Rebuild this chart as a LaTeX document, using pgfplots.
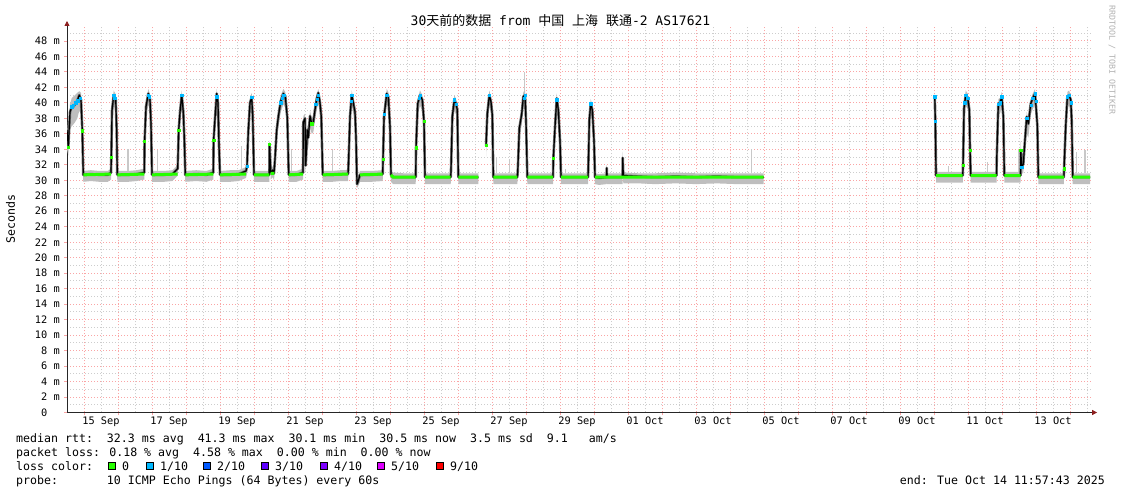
\documentclass[border=0pt]{standalone}
\usepackage{fontspec}
\setmainfont{DejaVu Sans Mono}
\newfontfamily\cjk{Noto Sans CJK SC}
\usepackage{pgfplots}
\usepackage{pgfplotstable}
\pgfplotsset{compat=1.18}
\usepgfplotslibrary{fillbetween}
\usetikzlibrary{arrows.meta}

\definecolor{gridred}{RGB}{250,165,165}
\definecolor{gridgray}{RGB}{205,205,205}
\definecolor{smoke}{RGB}{190,190,190}
\definecolor{smokedark}{RGB}{110,110,110}
\definecolor{spike}{RGB}{200,200,200}
\definecolor{loss0}{HTML}{26FF00}
\definecolor{loss1}{HTML}{00B8FF}
\definecolor{loss2}{HTML}{0059FF}
\definecolor{loss3}{HTML}{5E00FF}
\definecolor{loss4}{HTML}{7E00FF}
\definecolor{loss5}{HTML}{DD00FF}
\definecolor{loss9}{HTML}{FF0000}
\definecolor{arrowred}{RGB}{140,30,30}

% x = days after 15 Sep 00:00, med = median rtt (ms), lo/hi = smoke range
\pgfplotstableread{
x med lo hi
-0.500 36.5 34.0 37.5
-0.462 34.3 33.2 35.5
-0.412 38.8 36.5 39.8
-0.362 39.5 37.0 40.6
-0.315 39.5 37.2 40.8
-0.265 39.8 37.5 41.0
-0.197 40.3 38.0 41.3
-0.138 41.0 39.0 41.5
-0.088 40.4 38.5 41.3
-0.050 36.4 34.5 38.0
-0.021 30.7 29.8 31.2
0.20 30.8 29.9 31.3
0.45 30.7 29.8 31.2
0.70 30.7 29.8 31.2
0.794 31.0 30.1 31.5
0.803 33.0 31.8 33.6
0.824 39.0 37.6 39.6
0.874 41.0 39.6 41.6
0.932 40.5 39.1 41.1
0.962 36.3 34.9 36.9
0.979 30.7 29.8 31.2
1.30 30.7 29.8 31.2
1.55 30.8 29.9 31.3
1.774 31.0 30.1 31.5
1.782 35.0 33.6 35.6
1.824 39.5 38.1 40.1
1.891 41.2 39.8 41.8
1.941 40.5 39.1 41.1
1.971 37.2 35.8 37.8
2.000 30.7 29.8 31.2
2.35 30.7 29.8 31.2
2.60 30.8 29.9 31.3
2.756 31.5 30.6 32.0
2.785 36.5 35.1 37.1
2.824 38.8 37.4 39.4
2.874 41.0 39.6 41.6
2.921 38.8 37.4 39.4
2.950 35.5 34.1 36.1
2.979 30.7 29.8 31.2
3.30 30.8 29.9 31.3
3.60 30.7 29.8 31.2
3.803 31.0 30.1 31.5
3.812 35.2 33.8 35.8
3.853 38.0 36.6 38.6
3.903 41.2 39.8 41.8
3.941 40.0 38.6 40.6
3.971 34.4 33.0 35.0
4.000 30.7 29.8 31.2
4.30 30.7 29.8 31.3
4.55 30.8 29.9 31.3
4.765 31.2 30.3 31.7
4.794 31.8 30.9 32.3
4.832 36.3 34.9 36.9
4.882 40.0 38.6 40.6
4.932 40.7 39.3 41.3
4.962 38.3 36.9 38.9
5.000 30.7 29.8 31.2
5.25 30.7 29.8 31.2
5.450 30.7 29.8 31.2
5.456 34.7 33.5 35.2
5.491 31.0 30.1 31.5
5.550 31.3 30.4 31.8
5.588 30.9 30.0 31.4
5.618 32.8 31.6 33.4
5.668 36.5 35.1 37.3
5.715 38.2 36.8 38.9
5.785 40.2 38.8 40.9
5.862 41.2 39.8 41.8
5.921 40.8 39.4 41.4
5.979 38.1 36.7 38.7
6.021 30.7 29.8 31.2
6.25 30.7 29.8 31.2
6.441 31.0 30.1 31.5
6.450 37.5 35.5 38.3
6.500 38.0 36.4 38.6
6.521 31.9 31.0 32.5
6.568 36.5 35.0 37.2
6.597 35.5 34.2 36.3
6.647 38.3 36.9 39.0
6.697 37.3 36.0 38.0
6.744 37.5 36.2 38.3
6.794 39.1 37.7 39.8
6.844 40.5 39.1 41.1
6.891 41.3 39.9 41.8
6.941 40.0 38.6 40.6
6.979 38.2 36.8 38.8
7.021 30.7 29.8 31.2
7.30 30.7 29.8 31.2
7.55 30.8 29.9 31.3
7.765 30.8 29.9 31.3
7.774 31.5 30.6 32.0
7.824 38.3 36.9 38.9
7.874 41.0 39.6 41.6
7.921 40.0 38.6 40.6
7.971 38.8 37.4 39.4
8.000 35.5 34.1 36.1
8.029 29.5 29.0 30.2
8.059 29.8 29.2 30.5
8.118 30.7 29.8 31.2
8.45 30.7 29.8 31.2
8.785 30.8 29.9 31.3
8.794 32.7 31.5 33.3
8.824 38.2 36.8 38.8
8.903 41.2 39.8 41.8
8.950 40.8 39.4 41.4
9.000 36.9 35.5 37.5
9.029 30.7 29.8 31.2
9.09 30.4 29.5 31.0
9.40 30.4 29.5 30.9
9.756 30.4 29.5 30.9
9.765 34.2 32.8 34.8
9.815 39.9 38.5 40.5
9.882 41.0 39.6 41.6
9.950 40.4 39.0 41.0
10.000 37.6 36.2 38.2
10.029 30.4 29.5 30.9
10.40 30.4 29.5 30.9
10.785 30.4 29.5 30.9
10.794 31.3 30.4 31.9
10.832 38.2 36.8 38.8
10.891 40.4 39.0 41.0
10.941 39.9 38.5 40.5
10.979 39.1 37.7 39.7
11.009 30.4 29.5 30.9
11.30 30.4 29.5 30.9
11.597 30.4 29.5 30.9
}\segA

\pgfplotstableread{
x med lo hi
11.824 34.5 33.1 35.1
11.862 38.6 37.2 39.2
11.921 41.0 39.6 41.6
11.971 40.1 38.7 40.7
12.009 38.4 37.0 39.0
12.038 30.4 29.5 30.9
12.40 30.4 29.5 30.9
12.744 30.4 29.5 30.9
12.756 31.1 30.2 31.7
12.803 36.7 35.3 37.3
12.874 38.6 37.2 39.2
12.921 40.8 39.4 41.4
12.971 41.0 39.6 41.6
13.000 37.6 36.2 38.2
13.038 30.4 29.5 30.9
13.40 30.4 29.5 30.9
13.794 30.4 29.5 30.9
13.803 32.8 31.4 33.4
13.853 36.9 35.5 37.5
13.903 40.6 39.2 41.2
13.950 39.1 37.7 39.7
14.000 35.1 33.7 35.7
14.029 30.4 29.5 30.9
14.40 30.4 29.5 30.9
14.824 30.4 29.5 30.9
14.832 31.7 30.8 32.3
14.862 37.8 36.4 38.4
14.903 39.9 38.5 40.5
14.950 39.1 37.7 39.7
15.000 35.1 33.7 35.7
15.029 30.4 29.5 30.9
15.150 30.3 29.4 30.8
15.368 30.4 29.5 30.9
15.374 31.6 30.6 32.0
15.382 30.4 29.5 30.9
15.838 30.4 29.5 30.9
15.844 32.9 30.8 33.7
15.862 30.6 29.6 31.0
16.30 30.5 29.6 30.9
16.80 30.4 29.5 30.9
17.40 30.5 29.6 31.0
18.00 30.4 29.5 30.9
18.60 30.5 29.6 30.9
19.20 30.4 29.5 30.9
19.985 30.4 29.5 30.9
}\segB

\pgfplotstableread{
x med lo hi
25.021 40.8 39.4 41.3
25.038 37.6 36.2 38.2
25.059 30.6 29.7 31.1
25.45 30.6 29.7 31.1
25.844 30.6 29.7 31.1
25.853 31.9 31.0 32.5
25.882 39.3 37.9 39.9
25.932 41.0 39.6 41.6
25.991 40.6 39.2 41.2
26.038 39.1 37.7 39.7
26.059 33.9 32.5 34.5
26.079 30.6 29.7 31.1
26.45 30.6 29.7 31.1
26.838 30.6 29.7 31.1
26.844 32.8 31.4 33.4
26.891 39.9 38.5 40.5
26.941 40.0 38.6 40.6
26.991 40.8 39.4 41.4
27.038 38.2 36.8 38.8
27.068 30.6 29.7 31.1
27.30 30.6 29.7 31.1
27.544 30.6 29.7 31.1
27.550 33.9 32.5 35.0
27.579 31.7 30.8 32.3
27.626 32.1 31.0 33.0
27.676 35.3 33.9 36.0
27.726 38.2 36.0 38.8
27.774 37.3 35.5 38.0
27.844 39.9 38.5 40.5
27.903 40.6 39.2 41.2
27.971 41.2 39.8 41.8
28.038 37.1 35.7 37.7
28.068 30.4 29.5 30.9
28.45 30.4 29.5 30.9
28.818 30.4 29.5 30.9
28.824 31.5 30.6 32.1
28.874 37.1 35.7 37.7
28.921 40.8 39.4 41.4
28.971 41.0 39.6 41.6
29.021 40.4 39.0 41.0
29.050 37.6 36.2 38.2
29.079 30.4 29.5 30.9
29.35 30.4 29.5 30.9
29.588 30.4 29.5 30.9
}\segC

\begin{document}
\begin{tikzpicture}
\begin{axis}[
    at={(0pt,0pt)}, anchor=south west,
    scale only axis, width=1024.1pt, height=385.5pt,
    xmin=-0.5, xmax=29.62, ymin=0, ymax=49.8,
    enlargelimits=false,
    unbounded coords=jump,
    axis lines=left,
    axis line style={line width=0.8pt, draw=black!85, shorten >=-6pt,
        -{Triangle[length=5pt,width=5pt,color=arrowred]}},
    tick align=outside,
    major tick length=3pt, minor tick length=0pt,
    xtick={0,1,...,29}, xticklabels={},
    minor xtick={-0.5,0.5,...,29.5},
    extra x ticks={0.5,2.5,...,28.5},
    extra x tick labels={15 Sep,17 Sep,19 Sep,21 Sep,23 Sep,25 Sep,27 Sep,29 Sep,01 Oct,03 Oct,05 Oct,07 Oct,09 Oct,11 Oct,13 Oct},
    extra x tick style={grid=none, major tick length=0pt},
    ytick={0,2,...,48},
    yticklabels={0\phantom{~m},2 m,4 m,6 m,8 m,10 m,12 m,14 m,16 m,18 m,20 m,22 m,24 m,26 m,28 m,30 m,32 m,34 m,36 m,38 m,40 m,42 m,44 m,46 m,48 m},
    minor ytick={1,3,...,49},
    grid=both,
    major grid style={color=gridred, line width=1pt, dash pattern=on 1pt off 2pt},
    minor grid style={color=gridgray, line width=1pt, dash pattern=on 1pt off 2pt},
    xtick style={color=gridred, line width=0.8pt},
    ytick style={color=gridred, line width=0.8pt},
    tick label style={font=\fontsize{10.3}{12}\selectfont, inner sep=0pt},
    xticklabel style={yshift=-4pt},
    yticklabel style={xshift=-4pt},
]
% smoke (min..max range of the pings)
\addplot[draw=none, name path=h1] table[x=x,y=hi]{\segA};
\addplot[draw=none, name path=l1] table[x=x,y=lo]{\segA};
\addplot[fill=smoke, draw=none] fill between[of=h1 and l1];
\addplot[draw=none, name path=h2] table[x=x,y=hi]{\segB};
\addplot[draw=none, name path=l2] table[x=x,y=lo]{\segB};
\addplot[fill=smoke, draw=none] fill between[of=h2 and l2];
\addplot[draw=none, name path=h3] table[x=x,y=hi]{\segC};
\addplot[draw=none, name path=l3] table[x=x,y=lo]{\segC};
\addplot[fill=smoke, draw=none] fill between[of=h3 and l3];
% single slow pings
\addplot[spike, line width=1.1pt] coordinates {
(1.294,31.2)(1.294,34.0)(1.3,nan)
(2.156,31.2)(2.156,33.9)(2.16,nan)
(4.638,31.2)(4.638,34.4)(4.64,nan)
(6.109,31.2)(6.109,34.1)(6.11,nan)
(7.315,31.2)(7.315,34.0)(7.32,nan)
(12.138,30.9)(12.138,33.0)(12.14,nan)
(12.509,30.9)(12.509,32.8)(12.51,nan)
(12.965,41.5)(12.965,44.0)(12.97,nan)
(14.157,30.9)(14.157,31.5)(14.16,nan)
(19.638,30.9)(19.638,34.0)(19.64,nan)
(25.421,31.1)(25.421,31.8)(25.43,nan)
(26.568,31.1)(26.568,32.3)(26.57,nan)
(27.480,31.1)(27.480,33.9)(27.49,nan)
(29.197,30.9)(29.197,33.6)(29.2,nan)
(29.441,30.9)(29.441,33.9)
};
% dense part of the smoke around the median
\addplot[smokedark, line width=2.6pt, line join=round] table[x=x,y=med]{\segA};
\addplot[smokedark, line width=2.6pt, line join=round] table[x=x,y=med]{\segB};
\addplot[smokedark, line width=2.6pt, line join=round] table[x=x,y=med]{\segC};
% median rtt
\addplot[black, line width=1.2pt, line join=round] table[x=x,y=med]{\segA};
\addplot[black, line width=1.2pt, line join=round] table[x=x,y=med]{\segB};
\addplot[black, line width=1.2pt, line join=round] table[x=x,y=med]{\segC};
% median with 0 loss
\addplot[loss0, line width=3pt] coordinates {
(-0.021,30.7)(0.794,30.8)(0.80,nan)
(0.979,30.7)(1.774,30.8)(1.78,nan)
(2.000,30.7)(2.756,30.8)(2.76,nan)
(2.979,30.7)(3.803,30.8)(3.81,nan)
(4.000,30.7)(4.765,30.8)(4.77,nan)
(5.000,30.7)(5.450,30.7)(5.455,nan)
(5.491,30.9)(5.600,30.9)(5.61,nan)
(6.021,30.7)(6.441,30.8)(6.445,nan)
(7.021,30.7)(7.765,30.8)(7.77,nan)
(8.118,30.7)(8.785,30.8)(8.79,nan)
(9.029,30.7)(9.09,30.4)(9.756,30.4)(9.76,nan)
(10.029,30.4)(10.785,30.4)(10.79,nan)
(11.009,30.4)(11.597,30.4)(11.6,nan)
(12.038,30.4)(12.744,30.4)(12.75,nan)
(13.038,30.4)(13.794,30.4)(13.8,nan)
(14.029,30.4)(14.824,30.4)(14.83,nan)
(15.029,30.4)(19.985,30.4)(19.99,nan)
(25.059,30.6)(25.844,30.6)(25.85,nan)
(26.079,30.6)(26.838,30.6)(26.84,nan)
(27.068,30.6)(27.544,30.6)(27.547,nan)
(28.068,30.4)(28.818,30.4)(28.82,nan)
(29.079,30.4)(29.588,30.4)
};
\addplot[only marks, mark=square*, mark size=1.1pt, loss0] coordinates {
(-0.462,34.3)(0.803,33.0)(1.782,35.0)(3.812,35.2)(5.456,34.7)(6.697,37.3)
(8.794,32.7)(9.765,34.2)(10.0,37.6)(11.824,34.5)(13.803,32.8)(25.853,31.9)
(26.059,33.9)(27.55,33.9)(28.824,31.5)(-0.05,36.4)(2.785,36.5)
};
% median with 1/10 loss
\addplot[only marks, mark=square*, mark size=1.2pt, loss1] coordinates {
(-0.36,39.5)(-0.31,39.7)(-0.25,40.0)(-0.19,40.3)(-0.12,40.6)
(0.874,41.0)(0.905,40.6)(1.891,41.0)(1.915,40.8)(2.874,41.0)(3.903,40.8)
(4.794,31.8)(4.932,40.7)(5.79,40.0)(5.83,40.6)(5.87,41.0)
(6.82,39.8)(6.85,40.5)(6.89,41.0)(7.85,40.2)(7.874,41.0)
(8.83,38.5)(8.903,41.0)(9.85,40.6)(9.882,41.0)(10.891,40.4)(10.94,39.8)
(11.921,41.0)(12.94,40.6)(12.971,41.0)(13.903,40.4)(14.903,39.9)
(25.021,40.8)(25.038,37.6)(25.9,40.0)(25.93,41.0)(25.99,40.6)
(26.9,39.8)(26.95,40.0)(26.99,40.8)
(27.579,31.7)(27.73,38.0)(27.85,39.7)(27.9,40.6)(27.97,41.2)(28.0,40.2)
(28.92,40.8)(28.97,41.0)(29.03,40.0)
};
\end{axis}

% title, axis label, watermark
\node[anchor=base, font=\fontsize{13}{15}\selectfont] at (493.5pt,386.8pt)
  {30{\cjk 天前的数据} from {\cjk 中国} {\cjk 上海} {\cjk 联通}-2 AS17621};
\node[rotate=90, font=\fontsize{11.6}{14}\selectfont] at (-56.5pt,193.5pt) {Seconds};
\node[rotate=-90, text=black!30, font=\fontsize{8.3}{10}\selectfont] at (1045pt,352.5pt) {RRDTOOL / TOBI OETIKER};

% legend block
\begin{scope}[font=\fontsize{11.6}{14}\selectfont, every node/.style={inner sep=0pt}]
\node[anchor=base west] at (-51pt,-29.8pt) {median rtt:~~32.3 ms avg~~41.3 ms max~~30.1 ms min~~30.5 ms now~~3.5 ms sd~~9.1~~~am/s};
\node[anchor=base west] at (-51pt,-43.7pt) {packet loss: 0.18 \% avg~~4.58 \% max~~0.00 \% min~~0.00 \% now};
\node[anchor=base west] at (-51pt,-57.7pt) {loss color:};
\node[anchor=base west] at (-51pt,-71.7pt) {probe:~~~~~~~10 ICMP Echo Pings (64 Bytes) every 60s};
\node[anchor=base east] at (1038pt,-71.7pt) {end: Tue Oct 14 11:57:43 2025};
\foreach \sx/\col in {41/loss0, 79/loss1, 136/loss2, 194/loss3, 253/loss4, 310/loss5, 369/loss9}{
  \draw[fill=\col, line width=0.9pt] (\sx pt,-57.3pt) rectangle ++(7pt,7pt);
}
\node[anchor=base west] at (55pt,-57.7pt) {0};
\node[anchor=base west] at (93pt,-57.7pt) {1/10};
\node[anchor=base west] at (150pt,-57.7pt) {2/10};
\node[anchor=base west] at (208pt,-57.7pt) {3/10};
\node[anchor=base west] at (267pt,-57.7pt) {4/10};
\node[anchor=base west] at (324pt,-57.7pt) {5/10};
\node[anchor=base west] at (383pt,-57.7pt) {9/10};
\end{scope}
\path (-67pt,-81.5pt) rectangle (1054pt,412.5pt);
\end{tikzpicture}
\end{document}
